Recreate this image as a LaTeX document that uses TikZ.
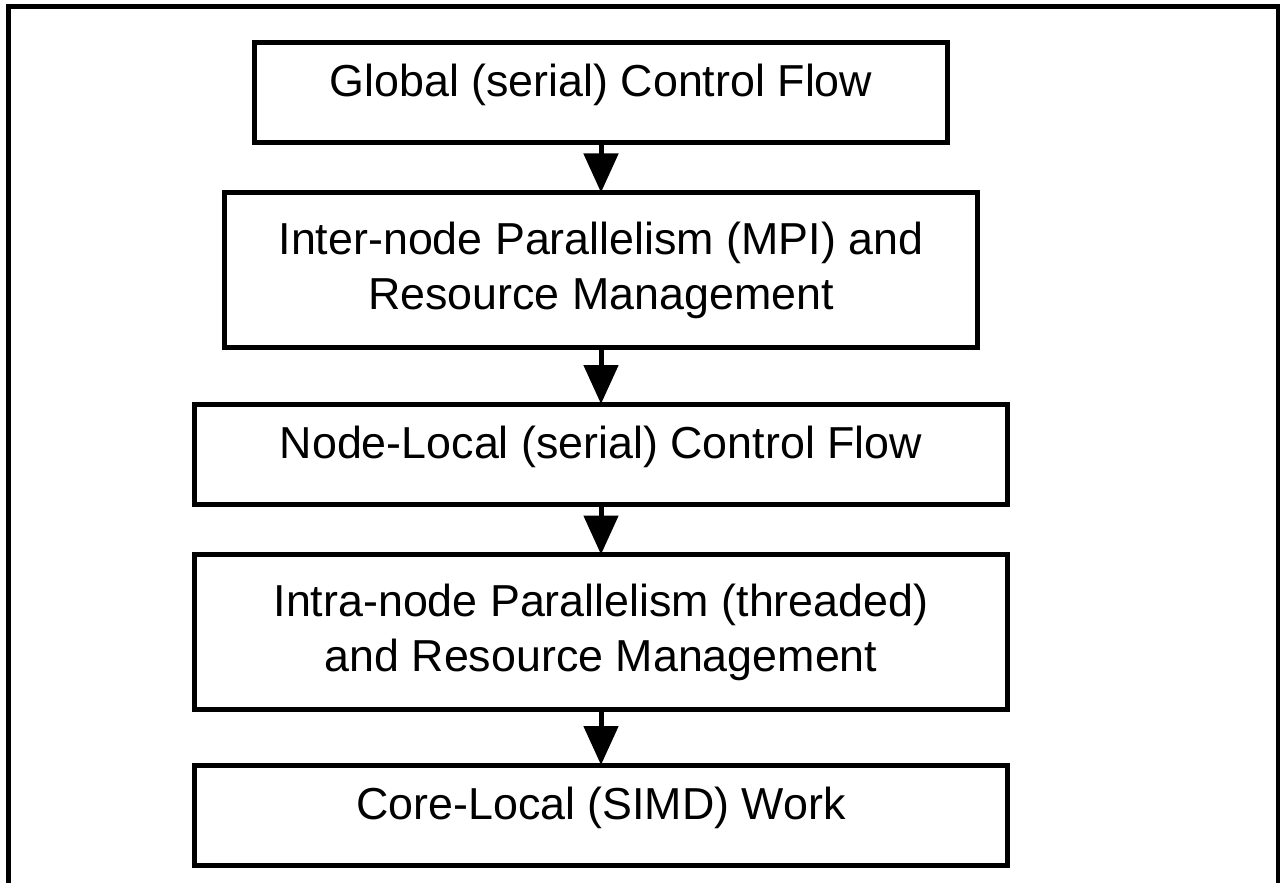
\documentclass[tikz,border=0pt]{standalone}
\usepackage{fontspec}
\setmainfont{Liberation Sans}
\usetikzlibrary{arrows.meta}

\begin{document}
\begin{tikzpicture}[x=0.5pt,y=-0.5pt,
			box/.style={draw,line width=2.5pt,rectangle,inner sep=0pt,outer sep=0pt,align=center,
				font=\fontsize{22.4pt}{27.5pt}\selectfont},
			one/.style={text height=0.75em,text depth=0.35em},
			arr/.style={line width=2.5pt,-{Triangle[width=17pt,length=19.5pt]}}
			]
			\useasboundingbox[fill=white] (0,0) rectangle (1280,883);
			% frame, open at the bottom
			\draw[line width=2.5pt] (8.5,883) -- (8.5,6.5) -- (1278,6.5) -- (1278,883);
			\node[box,one,minimum width=346.25pt,minimum height=50pt] (glob) at (601,92.5) {Global (serial) Control Flow};
			\node[box,minimum width=376.5pt,minimum height=77.5pt] (inter) at (601,270) {Inter-node Parallelism (MPI) and\\Resource Management};
			\node[box,one,minimum width=406.5pt,minimum height=50pt] (nloc) at (601,454) {Node-Local (serial) Control Flow};
			\node[box,minimum width=406.5pt,minimum height=77.5pt] (intra) at (601,632) {Intra-node Parallelism (threaded)\\and Resource Management};
			\node[box,one,minimum width=406.5pt,minimum height=50pt] (core) at (601,815) {Core-Local (SIMD) Work};
			\draw[arr] (glob) -- (inter);
			\draw[arr] (inter) -- (nloc);
			\draw[arr] (nloc) -- (intra);
			\draw[arr] (intra) -- (core);
			\end{tikzpicture}
\end{document}
